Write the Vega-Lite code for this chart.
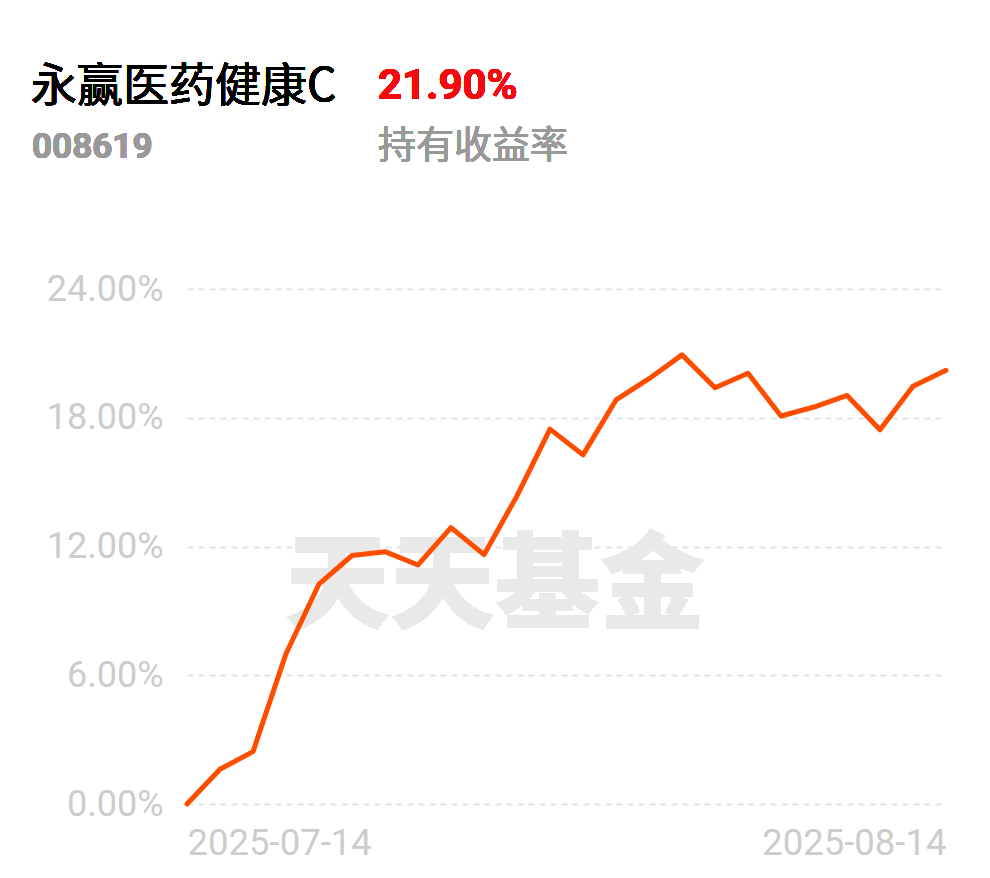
{
  "$schema": "https://vega.github.io/schema/vega-lite/v6.json",
  "width": 759,
  "height": 515,
  "autosize": {"type": "none"},
  "padding": {"left": 187, "top": 289, "right": 44, "bottom": 74},
  "background": "#ffffff",
  "config": {"view": {"stroke": null}},
  "data": {
    "values": [
      {"date": "2025-07-14", "ret": 0.0},
      {"date": "2025-07-15", "ret": 1.62},
      {"date": "2025-07-16", "ret": 2.44},
      {"date": "2025-07-17", "ret": 7.0},
      {"date": "2025-07-18", "ret": 10.25},
      {"date": "2025-07-21", "ret": 11.58},
      {"date": "2025-07-22", "ret": 11.76},
      {"date": "2025-07-23", "ret": 11.14},
      {"date": "2025-07-24", "ret": 12.88},
      {"date": "2025-07-25", "ret": 11.62},
      {"date": "2025-07-28", "ret": 14.36},
      {"date": "2025-07-29", "ret": 17.47},
      {"date": "2025-07-30", "ret": 16.27},
      {"date": "2025-07-31", "ret": 18.83},
      {"date": "2025-08-01", "ret": 19.82},
      {"date": "2025-08-04", "ret": 20.93},
      {"date": "2025-08-05", "ret": 19.4},
      {"date": "2025-08-06", "ret": 20.07},
      {"date": "2025-08-07", "ret": 18.08},
      {"date": "2025-08-08", "ret": 18.5},
      {"date": "2025-08-11", "ret": 19.04},
      {"date": "2025-08-12", "ret": 17.44},
      {"date": "2025-08-13", "ret": 19.47},
      {"date": "2025-08-14", "ret": 20.21}
    ]
  },
  "encoding": {
    "x": {
      "field": "date",
      "type": "ordinal",
      "scale": {"type": "point", "padding": 0},
      "axis": {
        "title": null,
        "domain": false,
        "ticks": false,
        "grid": false,
        "labelAngle": 0,
        "labelFont": "Roboto",
        "labelFontSize": 36.5,
        "labelColor": "#cccccc",
        "labelPadding": 21,
        "labelBaseline": "top",
        "labelOverlap": false,
        "labelLimit": 0,
        "labelExpr": "datum.value == '2025-07-14' || datum.value == '2025-08-14' ? datum.value : ''",
        "labelAlign": {"condition": {"test": "datum.value == '2025-07-14'", "value": "left"}, "value": "right"}
      }
    },
    "y": {
      "field": "ret",
      "type": "quantitative",
      "scale": {"domain": [0, 24], "nice": false, "zero": true},
      "axis": {
        "title": null,
        "values": [0, 6, 12, 18, 24],
        "domain": false,
        "ticks": false,
        "labelFont": "Roboto",
        "labelFontSize": 36,
        "labelColor": "#cccccc",
        "labelPadding": 24,
        "labelLimit": 0,
        "labelExpr": "format(datum.value, '.2f') + '%'",
        "gridColor": "#e3e3e3",
        "gridWidth": 2,
        "gridDash": [6, 5]
      }
    }
  },
  "layer": [
    {
      "mark": {"type": "text", "text": "天天基金", "font": "Noto Sans CJK SC", "fontSize": 105, "fontWeight": 900, "color": "#e9e9e9", "align": "center", "baseline": "middle", "dx": 308},
      "encoding": {"x": {"datum": "2025-07-14"}, "y": {"datum": 10.07}}
    },
    {
      "mark": {"type": "line", "color": "#ff4d00", "strokeWidth": 5, "strokeCap": "round", "strokeJoin": "round"}
    },
    {
      "mark": {"type": "text", "text": "永赢医药健康C", "font": "Noto Sans CJK SC", "fontSize": 46, "color": "#000000", "align": "left", "baseline": "alphabetic", "dx": -156},
      "encoding": {"x": {"datum": "2025-07-14"}, "y": {"datum": 32.75}}
    },
    {
      "mark": {"type": "text", "text": "21.90%", "font": "Roboto", "fontSize": 42, "fontWeight": "bold", "color": "#f5090f", "align": "left", "baseline": "alphabetic", "dx": 191},
      "encoding": {"x": {"datum": "2025-07-14"}, "y": {"datum": 32.85}}
    },
    {
      "mark": {"type": "text", "text": "008619", "font": "Roboto", "fontSize": 35, "fontWeight": "bold", "color": "#999999", "align": "left", "baseline": "alphabetic", "dx": -155},
      "encoding": {"x": {"datum": "2025-07-14"}, "y": {"datum": 30.1}}
    },
    {
      "mark": {"type": "text", "text": "持有收益率", "font": "Noto Sans CJK SC", "fontSize": 38, "color": "#999999", "align": "left", "baseline": "alphabetic", "dx": 191},
      "encoding": {"x": {"datum": "2025-07-14"}, "y": {"datum": 30.1}}
    }
  ]
}
